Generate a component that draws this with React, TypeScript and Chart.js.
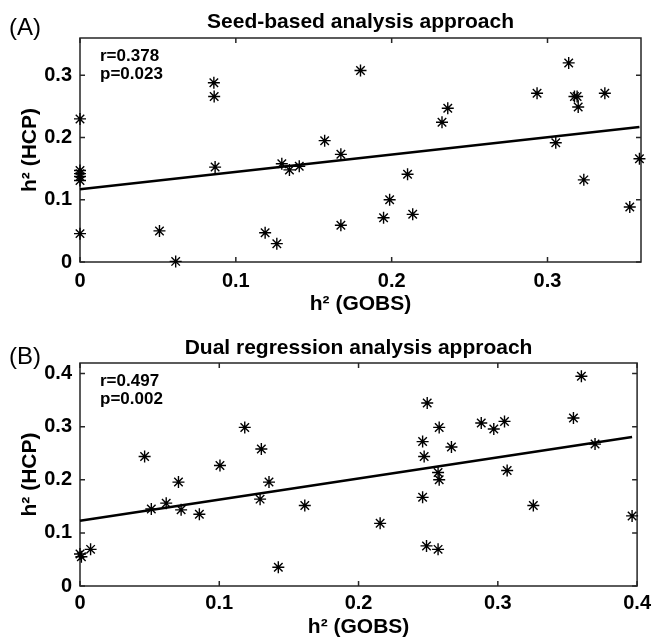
import React, { useEffect, useRef } from 'react';
import { Chart, registerables } from 'chart.js';

Chart.register(...registerables);

const FONT = "'Liberation Sans', Arial, Helvetica, sans-serif";

// ---------- Panel A: Seed-based analysis approach ----------
const seedX = [0, 0, 0, 0, 0, 0, 0.051, 0.0614, 0.0859, 0.0861, 0.0867, 0.1188, 0.1263, 0.1295, 0.1344, 0.1407, 0.157, 0.18, 0.1674, 0.1674, 0.1948, 0.1987, 0.2102, 0.2135, 0.2323, 0.236, 0.2933, 0.3053, 0.3136, 0.3173, 0.319, 0.3197, 0.3233, 0.3368, 0.3528, 0.359];
const seedY = [0.23, 0.147, 0.142, 0.1375, 0.131, 0.0456, 0.05, 0.001, 0.288, 0.266, 0.1525, 0.047, 0.0295, 0.158, 0.148, 0.154, 0.195, 0.3077, 0.173, 0.059, 0.071, 0.1, 0.141, 0.0766, 0.2247, 0.247, 0.2713, 0.1917, 0.32, 0.266, 0.266, 0.249, 0.132, 0.2713, 0.0883, 0.166];
const seedFitX = [0, 0.359];
const seedFitY = [0.117, 0.217];
const seedXTicks = [0, 0.1, 0.2, 0.3];
const seedYTicks = [0, 0.1, 0.2, 0.3];
const seedXRange = [0, 0.36];
const seedYRange = [0, 0.36];
const seedStats = ['r=0.378', 'p=0.023'];
const seedTitle = 'Seed-based analysis approach';
const seedLabel = '(A)';

// ---------- Panel B: Dual regression analysis approach ----------
const dualX = [0, 0.001, 0.0076, 0.0464, 0.0512, 0.0619, 0.0707, 0.0726, 0.0857, 0.1005, 0.1183, 0.1302, 0.1293, 0.1357, 0.1424, 0.1614, 0.2155, 0.2493, 0.246, 0.2471, 0.246, 0.2488, 0.2571, 0.2579, 0.2571, 0.2579, 0.2667, 0.2881, 0.2971, 0.3048, 0.3067, 0.3255, 0.3543, 0.36, 0.3698, 0.3964];
const dualY = [0.0604, 0.055, 0.069, 0.244, 0.145, 0.156, 0.1957, 0.1434, 0.135, 0.227, 0.2987, 0.258, 0.1636, 0.1957, 0.0352, 0.1515, 0.118, 0.3447, 0.272, 0.244, 0.167, 0.0755, 0.069, 0.2987, 0.2138, 0.2, 0.2617, 0.307, 0.2956, 0.31, 0.2176, 0.1515, 0.3164, 0.395, 0.2673, 0.132];
const dualFitX = [0, 0.3964];
const dualFitY = [0.123, 0.2805];
const dualXTicks = [0, 0.1, 0.2, 0.3, 0.4];
const dualYTicks = [0, 0.1, 0.2, 0.3, 0.4];
const dualXRange = [0, 0.4];
const dualYRange = [0, 0.42];
const dualStats = ['r=0.497', 'p=0.002'];
const dualTitle = 'Dual regression analysis approach';
const dualLabel = '(B)';

const xTitle = 'h\u00B2 (GOBS)';
const yTitle = 'h\u00B2 (HCP)';

const fmt = (v: number) => (v === 0 ? '0' : v.toFixed(1));

const framePlugin = {
  id: 'frame',
  beforeDatasetsDraw(chart: any) {
    const { ctx, chartArea: a, scales } = chart;
    ctx.save();
    ctx.strokeStyle = '#262626';
    ctx.lineWidth = 1.5;
    ctx.strokeRect(a.left, a.top, a.right - a.left, a.bottom - a.top);
    const L = 5;
    ctx.beginPath();
    for (const t of scales.x.ticks) {
      const px = scales.x.getPixelForValue(t.value);
      ctx.moveTo(px, a.bottom);
      ctx.lineTo(px, a.bottom - L);
      ctx.moveTo(px, a.top);
      ctx.lineTo(px, a.top + L);
    }
    for (const t of scales.y.ticks) {
      const py = scales.y.getPixelForValue(t.value);
      ctx.moveTo(a.left, py);
      ctx.lineTo(a.left + L, py);
      ctx.moveTo(a.right, py);
      ctx.lineTo(a.right - L, py);
    }
    ctx.stroke();
    ctx.restore();
  },
  afterDraw(chart: any, _a: any, opts: any) {
    const { ctx, chartArea: a } = chart;
    ctx.save();
    ctx.fillStyle = '#000';
    ctx.textBaseline = 'middle';
    ctx.textAlign = 'left';
    ctx.font = `bold 17px ${FONT}`;
    (opts.stats || []).forEach((s: string, i: number) => {
      ctx.fillText(s, a.left + 20, a.top + 18 + i * 18);
    });
    ctx.font = `24px ${FONT}`;
    ctx.fillText(opts.label, 9, opts.labelY);
    ctx.restore();
  },
};

interface PanelProps {
  xs: number[];
  ys: number[];
  fitX: number[];
  fitY: number[];
  xTicks: number[];
  yTicks: number[];
  xRange: number[];
  yRange: number[];
  stats: string[];
  title: string;
  label: string;
  layout: {
    top: number;
    titlePadTop: number;
    titlePadBottom: number;
    xTickPad: number;
    xAxisHeight: number;
    xTitlePadBottom: number;
    labelY: number;
  };
}

function Panel(p: PanelProps) {
  const ref = useRef<HTMLCanvasElement | null>(null);
  useEffect(() => {
    if (!ref.current) return;
    const pts = p.xs.map((x, i) => ({ x, y: p.ys[i] }));
    const fit = p.fitX.map((x, i) => ({ x, y: p.fitY[i] }));
    const chart = new Chart(ref.current, {
      type: 'scatter',
      data: {
        datasets: [
          {
            type: 'line',
            data: fit,
            borderColor: '#000',
            borderWidth: 2.6,
            pointRadius: 0,
            fill: false,
            clip: false,
            order: 1,
          } as any,
          {
            data: pts,
            pointStyle: 'star',
            pointRadius: 6,
            borderColor: '#000',
            backgroundColor: '#000',
            pointBorderWidth: 1.4,
            borderWidth: 1.4,
            clip: false,
            order: 0,
          } as any,
        ],
      },
      options: {
        responsive: false,
        animation: false,
        devicePixelRatio: 1,
        layout: { padding: { top: 0, left: 0, right: 15, bottom: 0 } },
        plugins: {
          legend: { display: false },
          tooltip: { enabled: false },
          title: {
            display: true,
            text: p.title,
            fullSize: false,
            color: '#000',
            font: { family: FONT, size: 21, weight: 'bold', lineHeight: 1.2 },
            padding: { top: p.layout.titlePadTop, bottom: p.layout.titlePadBottom },
          },
          frame: { stats: p.stats, label: p.label, labelY: p.layout.labelY },
        } as any,
        scales: {
          x: {
            type: 'linear',
            min: p.xRange[0],
            max: p.xRange[1],
            afterBuildTicks: (s: any) => {
              s.ticks = p.xTicks.map((v) => ({ value: v }));
            },
            afterFit: (s: any) => {
              s.height = p.layout.xAxisHeight;
            },
            grid: { display: false, drawTicks: false },
            border: { display: false },
            ticks: {
              padding: p.layout.xTickPad,
              color: '#000',
              font: { family: FONT, size: 20, weight: 'bold', lineHeight: 1.2 },
              maxRotation: 0,
              callback: (v: any) => fmt(Number(v)),
            },
            title: {
              display: true,
              text: xTitle,
              color: '#000',
              font: { family: FONT, size: 21, weight: 'bold', lineHeight: 1.2 },
              padding: { top: 0, bottom: p.layout.xTitlePadBottom },
            },
          },
          y: {
            type: 'linear',
            min: p.yRange[0],
            max: p.yRange[1],
            afterBuildTicks: (s: any) => {
              s.ticks = p.yTicks.map((v) => ({ value: v }));
            },
            afterFit: (s: any) => {
              s.width = 80;
            },
            grid: { display: false, drawTicks: false },
            border: { display: false },
            ticks: {
              padding: 8,
              color: '#000',
              font: { family: FONT, size: 20, weight: 'bold', lineHeight: 1.2 },
              callback: (v: any) => fmt(Number(v)),
            },
            title: {
              display: true,
              text: yTitle,
              color: '#000',
              font: { family: FONT, size: 21, weight: 'bold', lineHeight: 1.2 },
              padding: { top: 17.4, bottom: 0 },
            },
          },
        },
      } as any,
      plugins: [framePlugin],
    });
    return () => chart.destroy();
  }, []);
  return (
    <canvas
      ref={ref}
      width={656}
      height={320}
      style={{ position: 'absolute', left: 0, top: p.layout.top, width: 656, height: 320 }}
    />
  );
}

export default function App() {
  return (
    <div style={{ position: 'absolute', left: 0, top: 0, width: 656, height: 640, background: '#fff' }}>
      <Panel
        xs={seedX}
        ys={seedY}
        fitX={seedFitX}
        fitY={seedFitY}
        xTicks={seedXTicks}
        yTicks={seedYTicks}
        xRange={seedXRange}
        yRange={seedYRange}
        stats={seedStats}
        title={seedTitle}
        label={seedLabel}
        layout={{ top: 0, titlePadTop: 9.9, titlePadBottom: 2.9, xTickPad: 7, xAxisHeight: 58, xTitlePadBottom: 3.4, labelY: 28 }}
      />
      <Panel
        xs={dualX}
        ys={dualY}
        fitX={dualFitX}
        fitY={dualFitY}
        xTicks={dualXTicks}
        yTicks={dualYTicks}
        xRange={dualXRange}
        yRange={dualYRange}
        stats={dualStats}
        title={dualTitle}
        label={dualLabel}
        layout={{ top: 320, titlePadTop: 15.4, titlePadBottom: 2.4, xTickPad: 5, xAxisHeight: 54, xTitlePadBottom: 0, labelY: 37 }}
      />
    </div>
  );
}
